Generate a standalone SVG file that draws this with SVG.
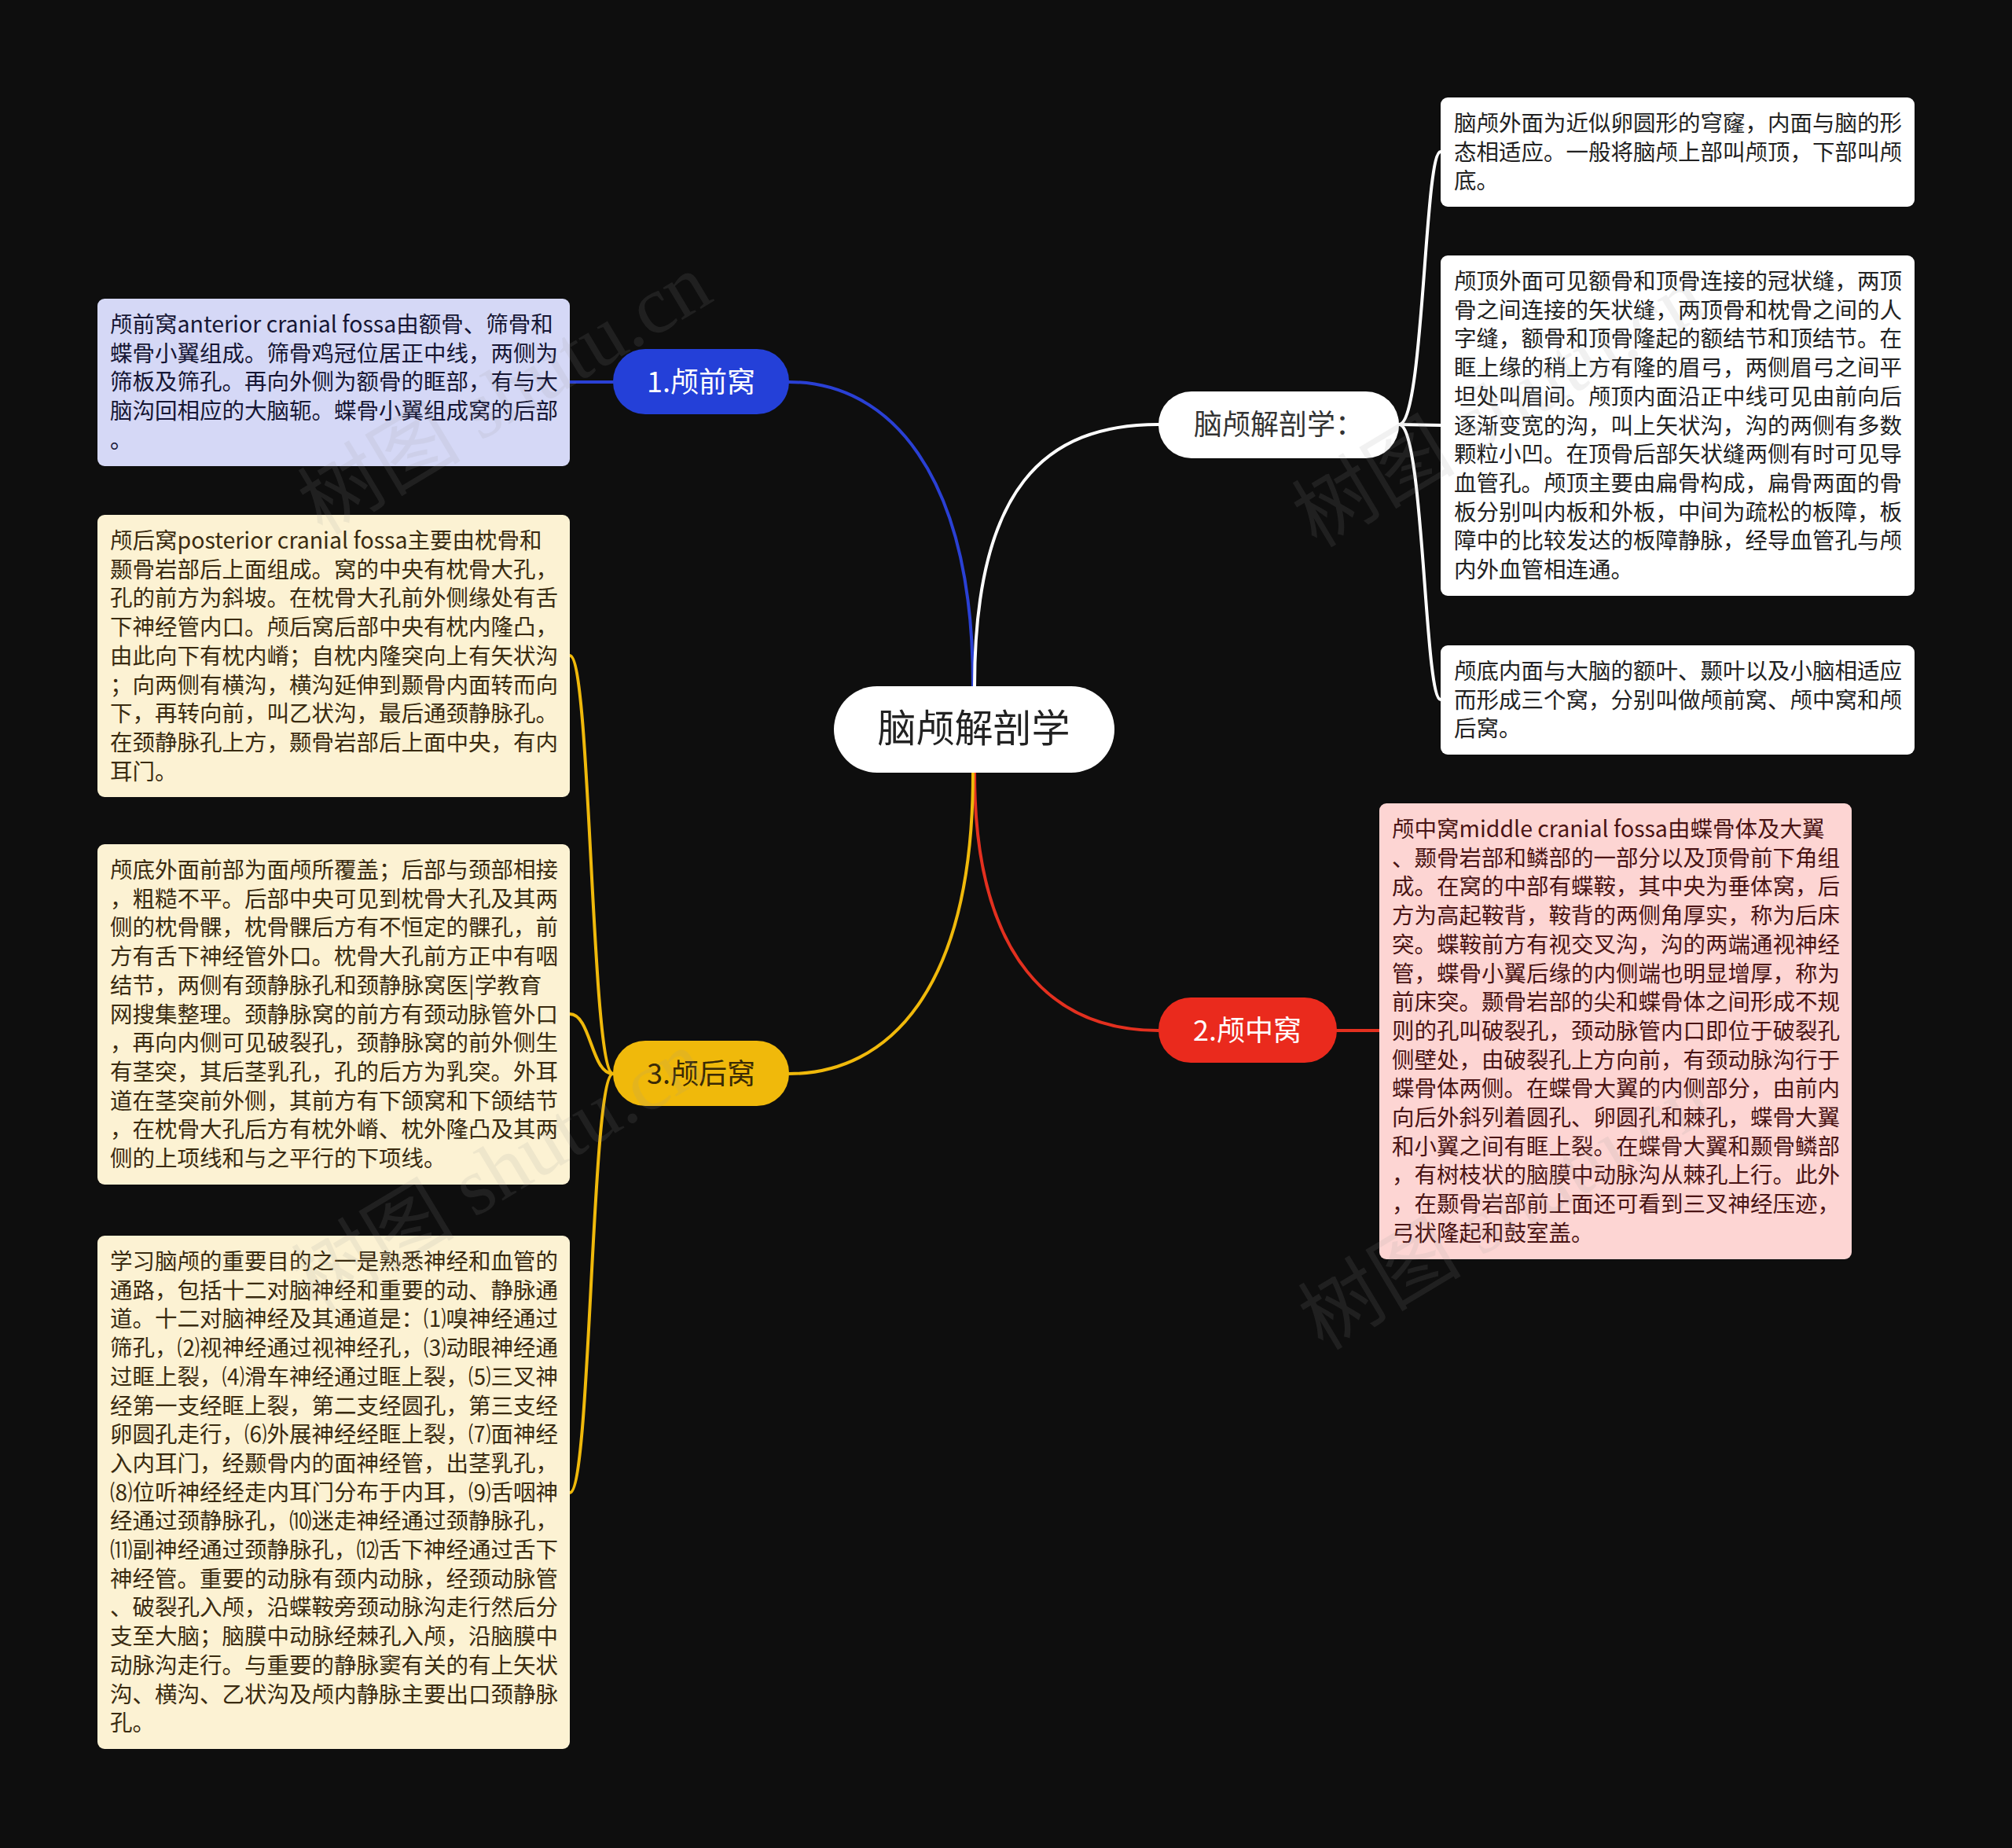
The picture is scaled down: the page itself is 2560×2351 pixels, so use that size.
<svg xmlns="http://www.w3.org/2000/svg" width="2560" height="2351" viewBox="0 0 2560 2351">
<style>
.bg{fill:#0e0e0e}
.conn{fill:none;stroke-width:4;stroke-linecap:round}
.t{font-family:"Noto Sans CJK SC","Noto Sans",sans-serif;font-size:28.5px}
.nt{font-family:"Noto Sans CJK SC","Noto Sans",sans-serif;text-anchor:middle}
.wm{font-family:"Liberation Serif","Noto Sans CJK SC",serif;font-size:104px;fill:#9a9a9a;opacity:0.13}
</style>
<rect class="bg" x="0" y="0" width="2560" height="2351"/>
<g id="connectors">
  <path class="conn" stroke="#2a40d4" d="M1004,486 C1130,486 1238,600 1238,873"/>
  <path class="conn" stroke="#ffffff" d="M1474,540 C1330,540 1240,620 1240,873"/>
  <path class="conn" stroke="#e3301f" d="M1240,983 C1240,1220 1340,1311 1474,1311"/>
  <path class="conn" stroke="#f0b90b" d="M1238,983 C1238,1260 1130,1366 1004,1366"/>
  <path class="conn" stroke="#2a40d4" d="M780,486 L725,486"/>
  <path class="conn" stroke="#e3301f" d="M1701,1311 L1755,1311"/>
  <path class="conn" stroke="#ffffff" d="M1780,540 C1812,540 1812,193 1833,193"/>
  <path class="conn" stroke="#ffffff" d="M1780,540 L1833,541"/>
  <path class="conn" stroke="#ffffff" d="M1780,540 C1812,540 1812,890 1833,890"/>
  <path class="conn" stroke="#f0b90b" d="M780,1366 C752,1366 752,834 725,834"/>
  <path class="conn" stroke="#f0b90b" d="M780,1366 C752,1366 752,1290 725,1290"/>
  <path class="conn" stroke="#f0b90b" d="M780,1366 C752,1366 752,1899 725,1899"/>
</g>
<g id="root">
  <rect x="1061" y="873" width="357" height="110" rx="55" fill="#ffffff"/>
  <text class="nt" x="1239" y="944" font-size="49" fill="#222222">脑颅解剖学</text>
</g>
<g id="n1">
  <rect x="780" y="444" width="224" height="83" rx="41" fill="#2440d8"/>
  <text class="nt" x="892" y="499" font-size="36" fill="#ffffff">1.颅前窝</text>
</g>
<g id="n0">
  <rect x="1474" y="498" width="306" height="85" rx="42" fill="#ffffff"/>
  <text class="nt" x="1627" y="553" font-size="36" fill="#333333">脑颅解剖学：</text>
</g>
<g id="n2">
  <rect x="1474" y="1269" width="227" height="83" rx="41" fill="#ea2a1d"/>
  <text class="nt" x="1587" y="1324" font-size="36" fill="#ffffff">2.颅中窝</text>
</g>
<g id="n3">
  <rect x="780" y="1324" width="224" height="83" rx="41" fill="#f0b90b"/>
  <text class="nt" x="892" y="1379" font-size="36" fill="#3a2a05">3.颅后窝</text>
</g>
<g id="l1">
  <rect x="124" y="380" width="601" height="213" rx="9" fill="#d5d8f6"/>
  <text class="t" fill="#161634" x="140" y="423">
    <tspan x="140">颅前窝anterior cranial fossa由额骨、筛骨和</tspan>
    <tspan x="140" dy="36.7">蝶骨小翼组成。筛骨鸡冠位居正中线，两侧为</tspan>
    <tspan x="140" dy="36.7">筛板及筛孔。再向外侧为额骨的眶部，有与大</tspan>
    <tspan x="140" dy="36.7">脑沟回相应的大脑轭。蝶骨小翼组成窝的后部</tspan>
    <tspan x="140" dy="36.7">。</tspan>
  </text>
</g>
<g id="l2">
  <rect x="124" y="655" width="601" height="359" rx="9" fill="#fcf2d3"/>
  <text class="t" fill="#3a2b10" x="140" y="698">
    <tspan x="140">颅后窝posterior cranial fossa主要由枕骨和</tspan>
    <tspan x="140" dy="36.7">颞骨岩部后上面组成。窝的中央有枕骨大孔，</tspan>
    <tspan x="140" dy="36.7">孔的前方为斜坡。在枕骨大孔前外侧缘处有舌</tspan>
    <tspan x="140" dy="36.7">下神经管内口。颅后窝后部中央有枕内隆凸，</tspan>
    <tspan x="140" dy="36.7">由此向下有枕内嵴；自枕内隆突向上有矢状沟</tspan>
    <tspan x="140" dy="36.7">；向两侧有横沟，横沟延伸到颞骨内面转而向</tspan>
    <tspan x="140" dy="36.7">下，再转向前，叫乙状沟，最后通颈静脉孔。</tspan>
    <tspan x="140" dy="36.7">在颈静脉孔上方，颞骨岩部后上面中央，有内</tspan>
    <tspan x="140" dy="36.7">耳门。</tspan>
  </text>
</g>
<g id="l3">
  <rect x="124" y="1074" width="601" height="433" rx="9" fill="#fcf2d3"/>
  <text class="t" fill="#3a2b10" x="140" y="1117">
    <tspan x="140">颅底外面前部为面颅所覆盖；后部与颈部相接</tspan>
    <tspan x="140" dy="36.7">，粗糙不平。后部中央可见到枕骨大孔及其两</tspan>
    <tspan x="140" dy="36.7">侧的枕骨髁，枕骨髁后方有不恒定的髁孔，前</tspan>
    <tspan x="140" dy="36.7">方有舌下神经管外口。枕骨大孔前方正中有咽</tspan>
    <tspan x="140" dy="36.7">结节，两侧有颈静脉孔和颈静脉窝医|学教育</tspan>
    <tspan x="140" dy="36.7">网搜集整理。颈静脉窝的前方有颈动脉管外口</tspan>
    <tspan x="140" dy="36.7">，再向内侧可见破裂孔，颈静脉窝的前外侧生</tspan>
    <tspan x="140" dy="36.7">有茎突，其后茎乳孔，孔的后方为乳突。外耳</tspan>
    <tspan x="140" dy="36.7">道在茎突前外侧，其前方有下颌窝和下颌结节</tspan>
    <tspan x="140" dy="36.7">，在枕骨大孔后方有枕外嵴、枕外隆凸及其两</tspan>
    <tspan x="140" dy="36.7">侧的上项线和与之平行的下项线。</tspan>
  </text>
</g>
<g id="l4">
  <rect x="124" y="1572" width="601" height="653" rx="9" fill="#fcf2d3"/>
  <text class="t" fill="#3a2b10" x="140" y="1615">
    <tspan x="140">学习脑颅的重要目的之一是熟悉神经和血管的</tspan>
    <tspan x="140" dy="36.7">通路，包括十二对脑神经和重要的动、静脉通</tspan>
    <tspan x="140" dy="36.7">道。十二对脑神经及其通道是：⑴嗅神经通过</tspan>
    <tspan x="140" dy="36.7">筛孔，⑵视神经通过视神经孔，⑶动眼神经通</tspan>
    <tspan x="140" dy="36.7">过眶上裂，⑷滑车神经通过眶上裂，⑸三叉神</tspan>
    <tspan x="140" dy="36.7">经第一支经眶上裂，第二支经圆孔，第三支经</tspan>
    <tspan x="140" dy="36.7">卵圆孔走行，⑹外展神经经眶上裂，⑺面神经</tspan>
    <tspan x="140" dy="36.7">入内耳门，经颞骨内的面神经管，出茎乳孔，</tspan>
    <tspan x="140" dy="36.7">⑻位听神经经走内耳门分布于内耳，⑼舌咽神</tspan>
    <tspan x="140" dy="36.7">经通过颈静脉孔，⑽迷走神经通过颈静脉孔，</tspan>
    <tspan x="140" dy="36.7">⑾副神经通过颈静脉孔，⑿舌下神经通过舌下</tspan>
    <tspan x="140" dy="36.7">神经管。重要的动脉有颈内动脉，经颈动脉管</tspan>
    <tspan x="140" dy="36.7">、破裂孔入颅，沿蝶鞍旁颈动脉沟走行然后分</tspan>
    <tspan x="140" dy="36.7">支至大脑；脑膜中动脉经棘孔入颅，沿脑膜中</tspan>
    <tspan x="140" dy="36.7">动脉沟走行。与重要的静脉窦有关的有上矢状</tspan>
    <tspan x="140" dy="36.7">沟、横沟、乙状沟及颅内静脉主要出口颈静脉</tspan>
    <tspan x="140" dy="36.7">孔。</tspan>
  </text>
</g>
<g id="r1">
  <rect x="1833" y="124" width="603" height="139" rx="9" fill="#ffffff"/>
  <text class="t" fill="#222222" x="1850" y="167">
    <tspan x="1850">脑颅外面为近似卵圆形的穹窿，内面与脑的形</tspan>
    <tspan x="1850" dy="36.7">态相适应。一般将脑颅上部叫颅顶，下部叫颅</tspan>
    <tspan x="1850" dy="36.7">底。</tspan>
  </text>
</g>
<g id="r2">
  <rect x="1833" y="325" width="603" height="433" rx="9" fill="#ffffff"/>
  <text class="t" fill="#222222" x="1850" y="368">
    <tspan x="1850">颅顶外面可见额骨和顶骨连接的冠状缝，两顶</tspan>
    <tspan x="1850" dy="36.7">骨之间连接的矢状缝，两顶骨和枕骨之间的人</tspan>
    <tspan x="1850" dy="36.7">字缝，额骨和顶骨隆起的额结节和顶结节。在</tspan>
    <tspan x="1850" dy="36.7">眶上缘的稍上方有隆的眉弓，两侧眉弓之间平</tspan>
    <tspan x="1850" dy="36.7">坦处叫眉间。颅顶内面沿正中线可见由前向后</tspan>
    <tspan x="1850" dy="36.7">逐渐变宽的沟，叫上矢状沟，沟的两侧有多数</tspan>
    <tspan x="1850" dy="36.7">颗粒小凹。在顶骨后部矢状缝两侧有时可见导</tspan>
    <tspan x="1850" dy="36.7">血管孔。颅顶主要由扁骨构成，扁骨两面的骨</tspan>
    <tspan x="1850" dy="36.7">板分别叫内板和外板，中间为疏松的板障，板</tspan>
    <tspan x="1850" dy="36.7">障中的比较发达的板障静脉，经导血管孔与颅</tspan>
    <tspan x="1850" dy="36.7">内外血管相连通。</tspan>
  </text>
</g>
<g id="r3">
  <rect x="1833" y="821" width="603" height="139" rx="9" fill="#ffffff"/>
  <text class="t" fill="#222222" x="1850" y="864">
    <tspan x="1850">颅底内面与大脑的额叶、颞叶以及小脑相适应</tspan>
    <tspan x="1850" dy="36.7">而形成三个窝，分别叫做颅前窝、颅中窝和颅</tspan>
    <tspan x="1850" dy="36.7">后窝。</tspan>
  </text>
</g>
<g id="r4">
  <rect x="1755" y="1022" width="601" height="580" rx="9" fill="#fdd5d3"/>
  <text class="t" fill="#4a1414" x="1771" y="1065">
    <tspan x="1771">颅中窝middle cranial fossa由蝶骨体及大翼</tspan>
    <tspan x="1771" dy="36.7">、颞骨岩部和鳞部的一部分以及顶骨前下角组</tspan>
    <tspan x="1771" dy="36.7">成。在窝的中部有蝶鞍，其中央为垂体窝，后</tspan>
    <tspan x="1771" dy="36.7">方为高起鞍背，鞍背的两侧角厚实，称为后床</tspan>
    <tspan x="1771" dy="36.7">突。蝶鞍前方有视交叉沟，沟的两端通视神经</tspan>
    <tspan x="1771" dy="36.7">管，蝶骨小翼后缘的内侧端也明显增厚，称为</tspan>
    <tspan x="1771" dy="36.7">前床突。颞骨岩部的尖和蝶骨体之间形成不规</tspan>
    <tspan x="1771" dy="36.7">则的孔叫破裂孔，颈动脉管内口即位于破裂孔</tspan>
    <tspan x="1771" dy="36.7">侧壁处，由破裂孔上方向前，有颈动脉沟行于</tspan>
    <tspan x="1771" dy="36.7">蝶骨体两侧。在蝶骨大翼的内侧部分，由前内</tspan>
    <tspan x="1771" dy="36.7">向后外斜列着圆孔、卵圆孔和棘孔，蝶骨大翼</tspan>
    <tspan x="1771" dy="36.7">和小翼之间有眶上裂。在蝶骨大翼和颞骨鳞部</tspan>
    <tspan x="1771" dy="36.7">，有树枝状的脑膜中动脉沟从棘孔上行。此外</tspan>
    <tspan x="1771" dy="36.7">，在颞骨岩部前上面还可看到三叉神经压迹，</tspan>
    <tspan x="1771" dy="36.7">弓状隆起和鼓室盖。</tspan>
  </text>
</g>
<g id="watermarks">
  <text class="wm" x="645" y="536" text-anchor="middle" transform="rotate(-31 645 506)">树图 shutu.cn</text>
  <text class="wm" x="1910" y="552" text-anchor="middle" transform="rotate(-31 1910 522)">树图 shutu.cn</text>
  <text class="wm" x="637" y="1524" text-anchor="middle" transform="rotate(-31 637 1494)">树图 shutu.cn</text>
  <text class="wm" x="1918" y="1573" text-anchor="middle" transform="rotate(-31 1918 1543)">树图 shutu.cn</text>
</g>
</svg>
